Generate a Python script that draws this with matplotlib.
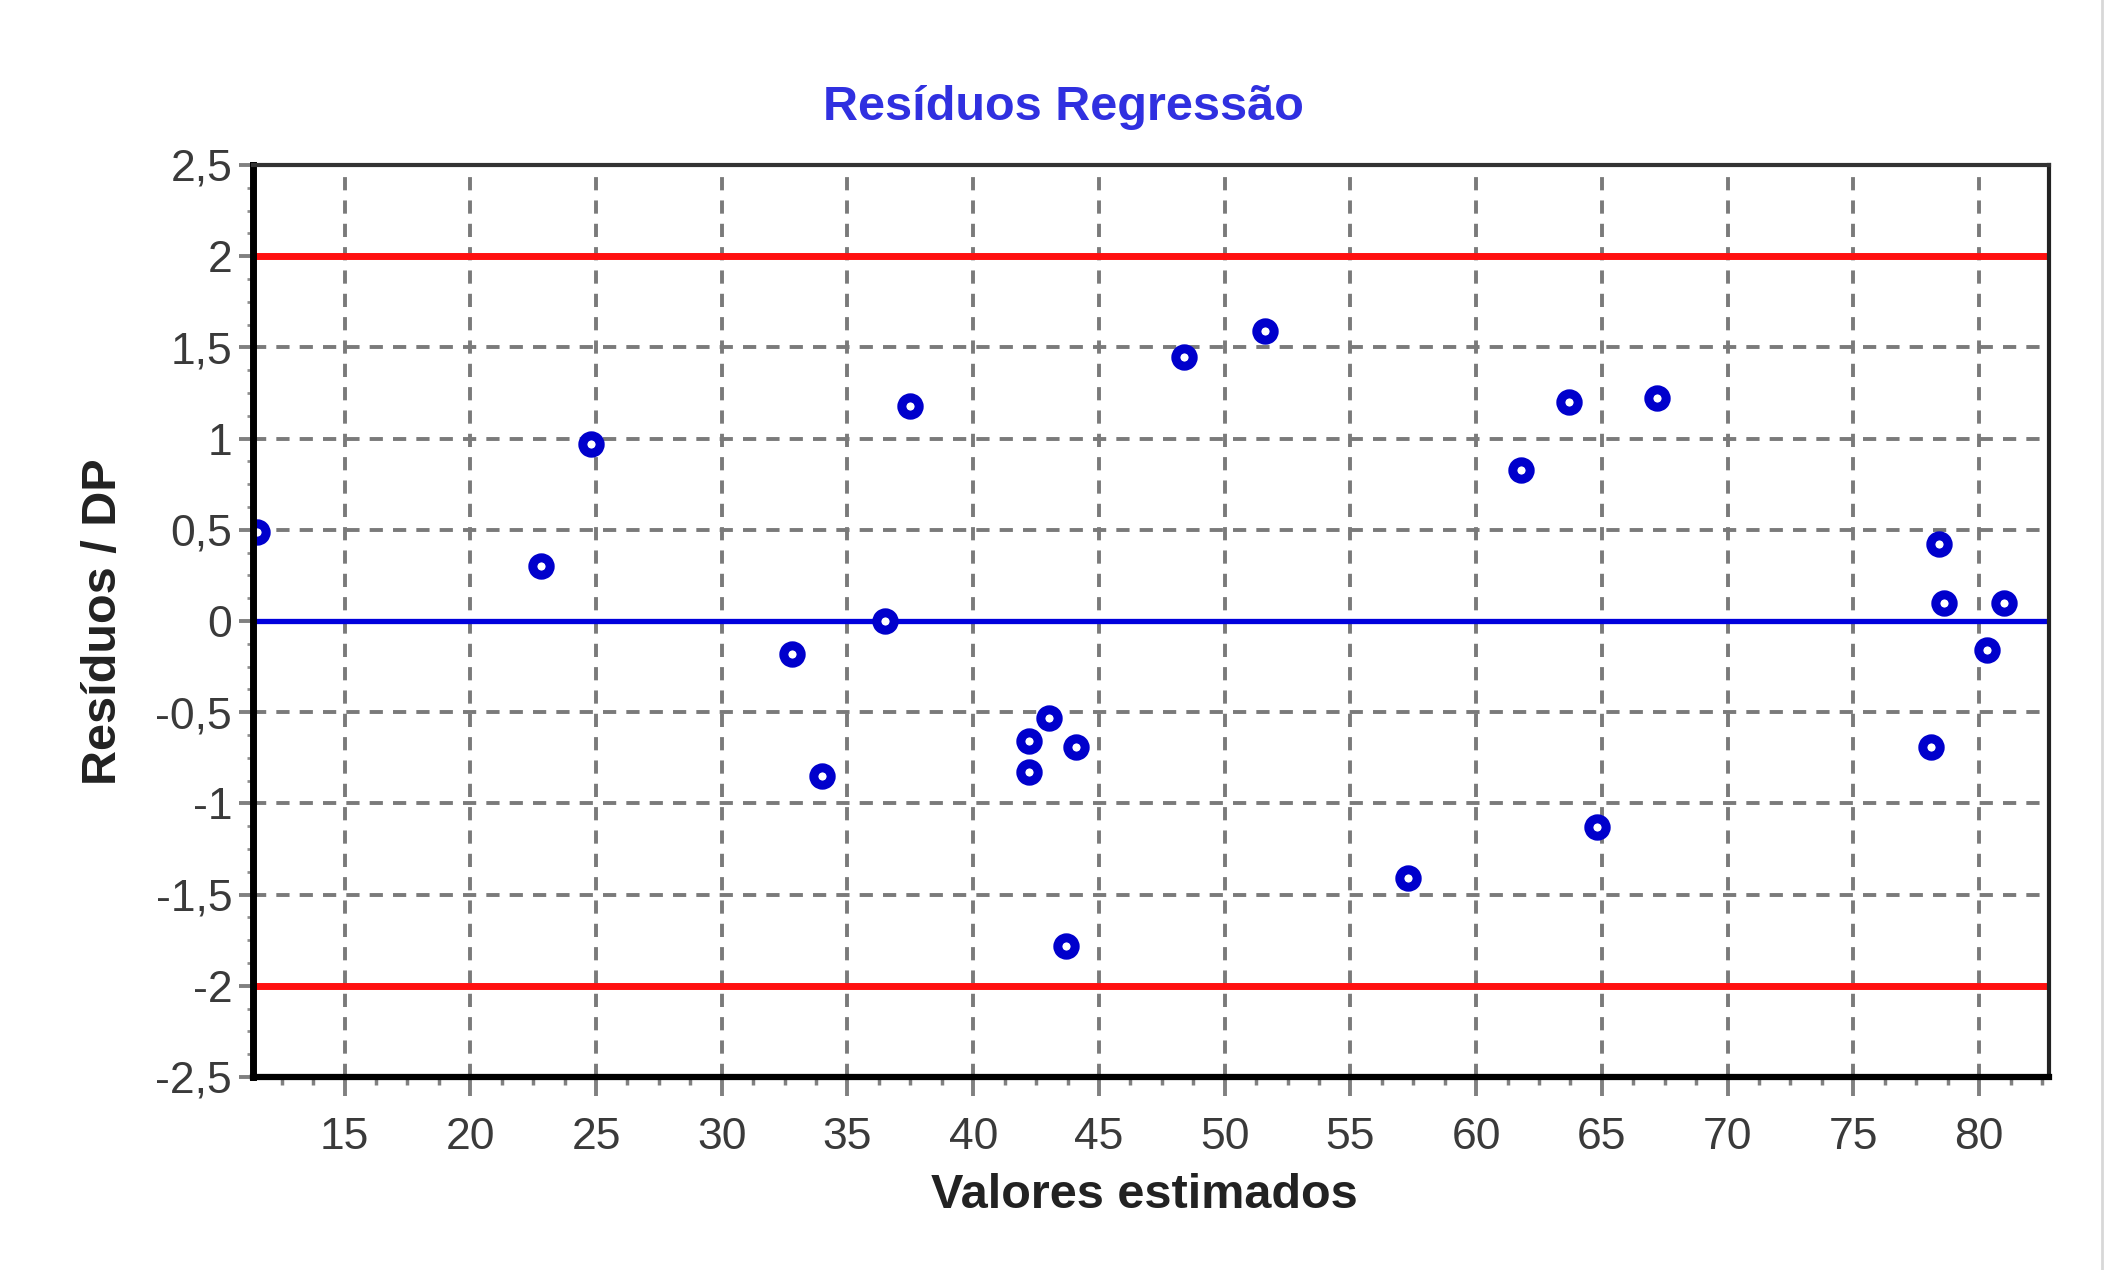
import matplotlib
matplotlib.use("Agg")
import matplotlib.pyplot as plt
from matplotlib.ticker import MultipleLocator, AutoMinorLocator, FuncFormatter
from matplotlib.lines import Line2D

# ---- data ----
valores_estimados = [11.5, 22.8, 24.8, 32.8, 34.0, 36.5, 37.5, 42.2, 42.2, 43.0,
                     43.7, 44.1, 48.4, 51.6, 57.3, 61.8, 63.7, 64.8, 67.2, 78.1,
                     78.4, 78.6, 80.3, 81.0]
residuos_dp = [0.49, 0.30, 0.97, -0.18, -0.85, 0.0, 1.18, -0.66, -0.83, -0.53,
               -1.78, -0.69, 1.45, 1.59, -1.41, 0.83, 1.20, -1.13, 1.22, -0.69,
               0.42, 0.10, -0.16, 0.10]
limites = [2, -2]
linha_zero = 0
x_limits = (11.36, 82.78)
y_limits = (-2.5, 2.5)
titulo = "Resíduos Regressão"
x_label = "Valores estimados"
y_label = "Resíduos / DP"

plt.rcParams['font.family'] = ['Liberation Sans', 'DejaVu Sans']

W, H = 2111, 1270
fig = plt.figure(figsize=(W / 100, H / 100), dpi=100)
fig.patch.set_facecolor('white')
ax = fig.add_axes([253 / W, 1 - 1077 / H, (2049 - 253) / W, (1077 - 165) / H])

ax.set_xlim(*x_limits)
ax.set_ylim(*y_limits)

ax.xaxis.set_major_locator(MultipleLocator(5))
ax.xaxis.set_minor_locator(AutoMinorLocator(4))
ax.yaxis.set_major_locator(MultipleLocator(0.5))
ax.yaxis.set_minor_locator(AutoMinorLocator(4))
fmt = FuncFormatter(lambda v, p: f"{v:g}".replace('.', ','))
ax.xaxis.set_major_formatter(fmt)
ax.yaxis.set_major_formatter(fmt)

ax.grid(True, which='major', color='#7a7a7a', linestyle=(0, (3.4, 2.6)), linewidth=2.8)
ax.set_axisbelow(True)

for lv in limites:
    ax.axhline(lv, color='#ff1010', linewidth=5, zorder=2)
ax.axhline(linha_zero, color='#0000dd', linewidth=3.8, zorder=2)

ax.plot(valores_estimados, residuos_dp, linestyle='none', marker='o',
        markersize=12.5, markeredgewidth=6.5, markeredgecolor='#0000cc',
        markerfacecolor='white', zorder=3, clip_on=True)

# spines
ax.spines['left'].set_linewidth(5)
ax.spines['left'].set_color('black')
ax.spines['bottom'].set_linewidth(4.5)
ax.spines['bottom'].set_color('black')
ax.spines['top'].set_linewidth(3)
ax.spines['top'].set_color('#333333')
ax.spines['right'].set_linewidth(3)
ax.spines['right'].set_color('#222222')
for s in ax.spines.values():
    s.set_zorder(4)

ax.tick_params(axis='x', which='major', length=14, width=2.8, color='#808080',
               labelsize=32, labelcolor='#3a3a3a', pad=15, direction='out')
ax.tick_params(axis='x', which='minor', length=6, width=2.5, color='#808080',
               direction='out')
ax.tick_params(axis='y', which='major', length=10, width=2.8, color='#808080',
               labelsize=32, labelcolor='#3a3a3a', pad=5, direction='out')
ax.tick_params(axis='y', which='minor', length=4, width=2, color='#909090',
               direction='out')

fig.text(1063 / W, 1 - 108 / H, titulo, ha='center', va='center',
         fontsize=35, fontweight='bold', color='#3030e0')
fig.text(1144 / W, 1 - 1196 / H, x_label, ha='center', va='center',
         fontsize=35, fontweight='bold', color='#222222')
fig.text(104 / W, 1 - 622 / H, y_label, ha='center', va='center', rotation=90,
         fontsize=35, fontweight='bold', color='#222222')

fig.add_artist(Line2D([2102 / W, 2102 / W], [0, 1], color='#d8d8d8', linewidth=2,
                      transform=fig.transFigure))

fig.savefig('out.png', dpi=100, facecolor='white')
